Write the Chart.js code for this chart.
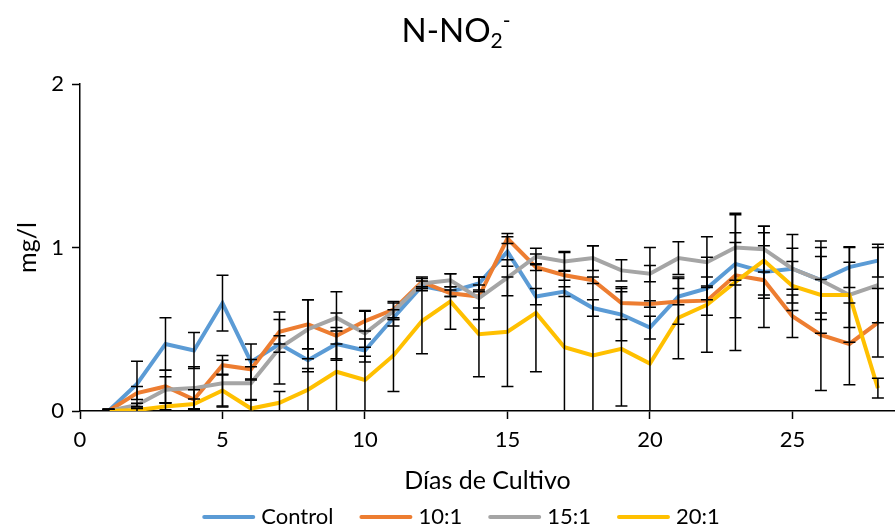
<!DOCTYPE html>
<html>
<head>
<meta charset="utf-8">
<script src="https://cdn.jsdelivr.net/npm/chart.js@4.4.1/dist/chart.umd.min.js"></script>
<style>
  html, body { margin: 0; padding: 0; background: #fff; overflow: hidden; }
  #wrap { width: 895px; height: 526px; }
</style>
</head>
<body>
<div id="wrap"><canvas id="grafico" width="895" height="526"></canvas></div>
<script>
// --- datos ---
const dias = [1, 2, 3, 4, 5, 6, 7, 8, 9, 10, 11, 12, 13, 14, 15, 16, 17, 18, 19, 20, 21, 22, 23, 24, 25, 26, 27, 28];

const control = [0, 0.165, 0.41, 0.37, 0.66, 0.30, 0.41, 0.31, 0.41, 0.37, 0.57, 0.765, 0.73, 0.78, 0.975, 0.70, 0.73, 0.63, 0.59, 0.51, 0.70, 0.75, 0.90, 0.85, 0.87, 0.80, 0.88, 0.92];
const r10 = [0, 0.11, 0.15, 0.07, 0.28, 0.255, 0.485, 0.53, 0.46, 0.55, 0.62, 0.79, 0.72, 0.70, 1.055, 0.88, 0.83, 0.80, 0.66, 0.655, 0.67, 0.675, 0.83, 0.80, 0.58, 0.465, 0.41, 0.54];
const r15 = [0, 0.037, 0.13, 0.14, 0.17, 0.17, 0.385, 0.50, 0.57, 0.475, 0.61, 0.78, 0.80, 0.69, 0.815, 0.945, 0.915, 0.935, 0.86, 0.84, 0.935, 0.91, 1.0, 0.99, 0.87, 0.80, 0.71, 0.77];
const r20 = [0, 0.006, 0.027, 0.043, 0.125, 0.015, 0.05, 0.13, 0.24, 0.19, 0.34, 0.55, 0.67, 0.47, 0.485, 0.60, 0.39, 0.34, 0.38, 0.29, 0.57, 0.65, 0.79, 0.92, 0.765, 0.71, 0.71, 0.14];

// desviaciones (barras de error, +/-)
const errControl = [0.01, 0.14, 0.16, 0.11, 0.17, 0.11, 0.05, 0.07, 0.10, 0.07, 0.05, 0.03, 0.03, 0.04, 0.09, 0.05, 0.03, 0.05, 0.16, 0.07, 0.05, 0.07, 0.13, 0.16, 0.21, 0.20, 0.125, 0.10];
const err10 = [0.01, 0.04, 0.10, 0.06, 0.06, 0.06, 0.075, 0.15, 0.14, 0.06, 0.05, 0.03, 0.02, 0.07, 0.03, 0.02, 0.03, 0.02, 0.10, 0.02, 0.14, 0.09, 0.26, 0.29, 0.13, 0.34, 0.25, 0.21];
const err15 = [0.01, 0.01, 0.08, 0.13, 0.14, 0.10, 0.22, 0.18, 0.16, 0.14, 0.05, 0.03, 0.04, 0.13, 0.11, 0.05, 0.06, 0.075, 0.065, 0.05, 0.10, 0.155, 0.20, 0.14, 0.125, 0.24, 0.20, 0.23];
const err20 = [0.01, 0.01, 0.02, 0.03, 0.10, 0.05, 0.07, 0.13, 0.25, 0.20, 0.22, 0.20, 0.17, 0.26, 0.335, 0.36, 0.58, 0.67, 0.35, 0.71, 0.25, 0.29, 0.42, 0.21, 0.15, 0.235, 0.29, 0.06];

const nombres = ["Control", "10:1", "15:1", "20:1"];
const colores = ["#5B9BD5", "#ED7D31", "#A5A5A5", "#FFC000"];

const FUENTE = "Lato, 'Open Sans', sans-serif";

// arma los puntos {x, y}
function puntos(valores) {
  return dias.map((d, i) => ({ x: d, y: valores[i] }));
}

const series = [control, r10, r15, r20];
const errores = [errControl, err10, err15, err20];

// === Barras de error
const barrasError = {
  id: "barrasError",
  afterDatasetsDraw(chart) {
    const { ctx, chartArea, scales } = chart;
    ctx.save();
    ctx.beginPath();
    ctx.rect(chartArea.left, chartArea.top - 2, chartArea.right - chartArea.left, chartArea.bottom - chartArea.top + 2);
    ctx.clip();
    ctx.strokeStyle = "#000";
    ctx.lineWidth = 1.5;
    errores.forEach((errs, s) => {
      errs.forEach((e, i) => {
        const px = scales.x.getPixelForValue(dias[i]);
        const yArr = scales.y.getPixelForValue(series[s][i] + e);
        const yAba = scales.y.getPixelForValue(series[s][i] - e);
        ctx.beginPath();
        ctx.moveTo(px, yArr);
        ctx.lineTo(px, yAba);
        ctx.moveTo(px - 6, yArr);
        ctx.lineTo(px + 6, yArr);
        ctx.moveTo(px - 6, yAba);
        ctx.lineTo(px + 6, yAba);
        ctx.stroke();
      });
    });
    ctx.restore();
  }
};

// === Título con subíndice y superíndice
const titulo = {
  id: "titulo",
  afterDraw(chart) {
    const ctx = chart.ctx;
    ctx.save();
    ctx.fillStyle = "#000";
    ctx.textBaseline = "alphabetic";
    ctx.font = "33px " + FUENTE;
    const base = "N-NO";
    const wBase = ctx.measureText(base).width;
    ctx.font = "21px " + FUENTE;
    const wSub = ctx.measureText("2").width;
    const wSup = ctx.measureText("-").width;
    const total = wBase + wSub + wSup;
    let x = 456 - total / 2;
    const y = 42;
    ctx.font = "33px " + FUENTE;
    ctx.fillText(base, x, y);
    x += wBase;
    ctx.font = "21px " + FUENTE;
    ctx.fillText("2", x, y + 6);
    x += wSub;
    ctx.fillText("-", x, y - 14);
    ctx.restore();
  }
};

// === Leyenda inferior
const leyenda = {
  id: "leyenda",
  afterDraw(chart) {
    const ctx = chart.ctx;
    ctx.save();
    ctx.font = "22px " + FUENTE;
    const largoLinea = 53, hueco = 6, sep = 26;
    const anchos = nombres.map(n => largoLinea + hueco + ctx.measureText(n).width);
    const total = anchos.reduce((a, b) => a + b, 0) + sep * (nombres.length - 1);
    let x = 461 - total / 2;
    const y = 517;
    nombres.forEach((n, i) => {
      ctx.strokeStyle = colores[i];
      ctx.lineWidth = 4;
      ctx.lineCap = "round";
      ctx.beginPath();
      ctx.moveTo(x + 2, y);
      ctx.lineTo(x + largoLinea - 2, y);
      ctx.stroke();
      ctx.fillStyle = "#000";
      ctx.textBaseline = "middle";
      ctx.fillText(n, x + largoLinea + hueco, y);
      x += anchos[i] + sep;
    });
    ctx.restore();
  }
};

new Chart(document.getElementById("grafico"), {
  type: "line",
  data: {
    datasets: nombres.map((n, i) => ({
      label: n,
      data: puntos(series[i]),
      borderColor: colores[i],
      backgroundColor: colores[i],
      borderWidth: 4,
      pointRadius: 0,
      tension: 0,
      order: 4 - i
    }))
  },
  options: {
    responsive: false,
    animation: false,
    devicePixelRatio: 1,
    layout: { padding: { top: 84, right: 0, bottom: 0, left: 0 } },
    plugins: {
      legend: { display: false },
      title: { display: false },
      tooltip: { enabled: false }
    },
    scales: {
      x: {
        type: "linear",
        min: 0,
        max: 28.6,
        afterFit(scale) { scale.height = 115; },
        ticks: { stepSize: 5, includeBounds: false, color: "#000", font: { family: FUENTE, size: 22 }, padding: 8, maxRotation: 0 },
        grid: { drawOnChartArea: false, drawTicks: true, tickLength: 8, tickColor: "#000", tickWidth: 1.5 },
        border: { display: true, color: "#000", width: 1.5 },
        title: { display: true, text: "Días de Cultivo", color: "#000", font: { family: FUENTE, size: 25 }, padding: { top: 0, bottom: 30 } }
      },
      y: {
        min: 0,
        max: 2,
        afterFit(scale) { scale.width = 80; },
        ticks: { stepSize: 1, color: "#000", font: { family: FUENTE, size: 22 }, padding: 8 },
        grid: { drawOnChartArea: false, drawTicks: true, tickLength: 8, tickColor: "#000", tickWidth: 1.5 },
        border: { display: true, color: "#000", width: 1.5 },
        title: { display: true, text: "mg/l", color: "#000", font: { family: FUENTE, size: 25 }, padding: { top: 13, bottom: 0 } }
      }
    }
  },
  plugins: [barrasError, titulo, leyenda]
});
</script>
</body>
</html>
